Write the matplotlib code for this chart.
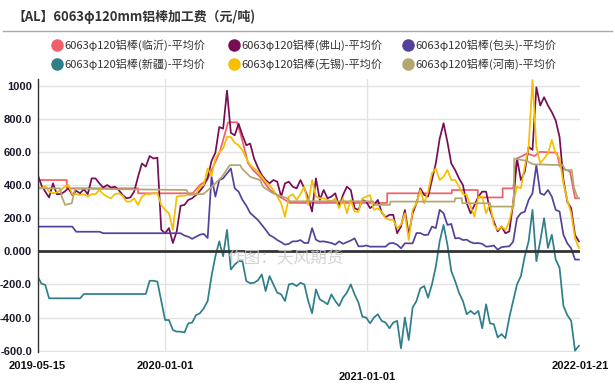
import matplotlib
matplotlib.use('Agg')
import matplotlib.pyplot as plt
from matplotlib.lines import Line2D
import pandas as pd

plt.rcParams['font.family'] = ['Noto Sans CJK SC', 'DejaVu Sans']

title = '【AL】6063φ120mm铝棒加工费（元/吨)'
names = ['6063φ120铝棒(临沂)-平均价', '6063φ120铝棒(佛山)-平均价', '6063φ120铝棒(包头)-平均价',
         '6063φ120铝棒(新疆)-平均价', '6063φ120铝棒(无锡)-平均价', '6063φ120铝棒(河南)-平均价']
colors = ['#F0606A', '#760D56', '#55419C', '#2E7F8A', '#F6BF00', '#B3A66F']

# weekly observation dates for the noisy series
week_dates = pd.date_range('2019-05-15', periods=141, freq='7D')

foshan = [466, 400, 360, 325, 410, 345, 345, 360, 380, 340,
          365, 350, 375, 345, 440, 440, 410, 385, 400, 385,
          390, 370, 340, 320, 325, 360, 450, 530, 511, 575,
          560, 565, 130, 109, 140, 50, 120, 275, 280, 310,
          320, 340, 365, 395, 445, 545, 595, 750, 740, 970,
          715, 700, 770, 700, 640, 650, 560, 505, 460, 430,
          410, 430, 420, 330, 410, 420, 390, 380, 430, 380,
          320, 240, 440, 310, 370, 320, 330, 350, 270, 340,
          390, 370, 260, 250, 310, 300, 260, 280, 310, 235,
          205, 220, 220, 109, 150, 249, 100, 229, 290, 380,
          340, 330, 430, 531, 680, 773, 660, 530, 490, 440,
          400, 290, 229, 280, 330, 360, 360, 249, 180, 120,
          150, 109, 120, 290, 560, 430, 480, 630, 612, 990,
          880, 930, 880, 840, 790, 690, 430, 300, 260, 98, 60]

wuxi = [390, 380, 395, 360, 350, 355, 370, 390, 400, 345,
        345, 340, 345, 330, 345, 345, 370, 345, 330, 320,
        345, 350, 335, 300, 300, 320, 280, 330, 345, 345,
        350, 350, 280, 250, 229, 130, 330, 335, 335, 340,
        340, 345, 390, 400, 500, 455, 560, 600, 620, 690,
        690, 655, 640, 610, 560, 521, 500, 480, 450, 420,
        400, 370, 330, 290, 209, 330, 345, 310, 345, 390,
        280, 430, 330, 320, 320, 310, 300, 320, 260, 320,
        229, 310, 239, 239, 320, 330, 340, 250, 260, 239,
        200, 190, 190, 140, 160, 229, 68, 249, 290, 370,
        290, 360, 471, 500, 430, 450, 491, 430, 430, 390,
        345, 340, 270, 209, 330, 330, 229, 290, 160, 129,
        150, 129, 180, 290, 390, 380, 511, 630, 1034, 632,
        531, 560, 590, 672, 592, 561, 410, 310, 229, 78, 20]

baotou = [149, 149, 149, 149, 149, 149, 149, 149, 149, 149,
          118, 118, 118, 118, 118, 118, 118, 109, 109, 109,
          109, 109, 109, 109, 109, 109, 109, 109, 109, 109,
          109, 109, 109, 109, 109, 109, 109, 109, 95, 88,
          75, 88, 100, 105, 80, 450, 330, 430, 440, 470,
          500, 380, 360, 310, 275, 231, 210, 189, 160, 130,
          98, 85, 68, 55, 40, 45, 60, 60, 68, 50,
          50, 140, 70, 58, 60, 55, 50, 40, 60, 45,
          55, 65, 78, 30, 30, 35, 28, 28, 28, 28,
          28, 48, 50, 40, 18, 48, 48, 48, 110, 110,
          98, 100, 149, 140, 250, 230, 159, 165, 78, 80,
          68, 70, 55, 48, 50, 45, 28, 30, 35, 10,
          25, 28, 30, 58, 200, 230, 239, 310, 350, 520,
          350, 340, 370, 330, 250, 240, 100, 48, 18, -50, -50]

xinjiang = [-149, -195, -203, -284, -284, -284, -284, -284, -284, -284,
            -284, -284, -258, -258, -258, -258, -258, -258, -258, -258,
            -258, -258, -258, -258, -258, -258, -258, -258, -258, -178,
            -178, -183, -300, -415, -415, -475, -485, -485, -490, -435,
            -430, -385, -374, -344, -300, -150, -30, 60, -30, 129,
            -110, -80, -60, -60, -180, -193, -190, -175, -140, -240,
            -150, -200, -250, -260, -300, -200, -195, -210, -190, -200,
            -300, -374, -230, -290, -304, -320, -260, -300, -330, -280,
            -250, -200, -260, -310, -395, -400, -435, -400, -380, -420,
            -430, -465, -430, -420, -586, -400, -536, -340, -300, -224,
            -210, -280, -200, -93, 60, 159, 40, -120, -180, -250,
            -300, -380, -360, -380, -360, -465, -320, -435, -440, -520,
            -500, -525, -400, -300, -200, -150, -30, 60, 250, -60,
            60, 200, 20, 100, -50, -100, -330, -385, -420, -600, -570]

# step-like series (break dates, values)
linyi_dates = ['2019-05-15', '2019-07-07', '2019-07-07', '2019-11-13', '2019-11-13', '2020-02-20',
               '2020-03-04', '2020-03-17', '2020-03-31', '2020-04-09', '2020-04-24', '2020-05-10',
               '2020-05-16', '2020-05-21', '2020-05-30', '2020-06-08', '2020-06-21', '2020-07-09',
               '2020-07-27', '2020-08-14', '2021-02-06', '2021-02-06', '2021-06-03', '2021-06-03',
               '2021-07-20', '2021-07-20', '2021-09-03', '2021-09-03', '2021-09-22', '2021-09-29',
               '2021-10-17', '2021-10-31', '2021-11-09', '2021-12-10', '2021-12-16', '2022-01-03',
               '2022-01-12', '2022-01-21']
linyi = [430, 430, 380, 380, 350, 350,
         400, 430, 533, 600, 779, 779,
         714, 653, 533, 491, 449, 370,
         328, 292, 292, 350, 350, 370,
         370, 325, 325, 380, 380, 560,
         590, 575, 600, 595, 510, 480,
         320, 320]

henan_dates = ['2019-05-15', '2019-06-25', '2019-06-28', '2019-07-04', '2019-07-16', '2019-07-22',
               '2020-02-09', '2020-02-12', '2020-03-10', '2020-03-26', '2020-04-13', '2020-04-27',
               '2020-05-16', '2020-05-19', '2020-06-03', '2020-06-21', '2020-06-26', '2020-07-14',
               '2020-08-09', '2020-08-14', '2021-01-11', '2021-01-15', '2021-02-11', '2021-02-12',
               '2021-06-08', '2021-06-09', '2021-06-21', '2021-06-22', '2021-08-11', '2021-08-12',
               '2021-09-23', '2021-09-24', '2021-10-17', '2021-10-28', '2021-12-21', '2021-12-25',
               '2022-01-06', '2022-01-10', '2022-01-17', '2022-01-21']
henan = [380, 380, 330, 280, 290, 378,
         370, 345, 345, 390, 450, 520,
         520, 500, 450, 430, 390, 350,
         320, 302, 302, 280, 280, 300,
         300, 320, 320, 290, 290, 270,
         270, 560, 545, 525, 520, 490,
         490, 385, 320, 320]

yticks = [1000, 800, 600, 400, 200, 0, -200, -400, -600]
ytick_labels = ['1000', '800.0', '600.0', '400.0', '200.0', '0.000', '-200.0', '-400.0', '-600.0']
xtick_dates = ['2019-05-15', '2020-01-01', '2021-01-01', '2022-01-21']
watermark = '作图：天风期货'

fig = plt.figure(figsize=(6.15, 3.89), dpi=100)
ax = fig.add_axes([37.5 / 615, 37 / 389, (580 - 37.5) / 615, 273 / 389])

series = [
    (pd.to_datetime(linyi_dates), linyi),
    (week_dates, foshan),
    (week_dates, baotou),
    (week_dates, xinjiang),
    (week_dates, wuxi),
    (pd.to_datetime(henan_dates), henan),
]
for (d, v), c in zip(series, colors):
    ax.plot(d, v, color=c, lw=1.25, zorder=2, solid_joinstyle='round')

ax.set_xlim(pd.Timestamp('2019-05-15'), pd.Timestamp('2022-01-21'))
ax.set_ylim(-608, 1040)
ax.set_yticks(yticks)
ax.set_yticklabels(ytick_labels, family='Liberation Sans', fontweight='bold', fontsize=8, color='#1a1a2e')
ax.tick_params(axis='y', length=0, pad=4)
ax.set_xticks(pd.to_datetime(xtick_dates))
ax.set_xticklabels([])
ax.tick_params(axis='x', length=0)
ax.grid(axis='y', color='#e3e3e3', lw=1, zorder=0)
for d in ['2020-01-01', '2021-01-01']:
    ax.axvline(pd.Timestamp(d), color='#e3e3e3', lw=1, zorder=0)
ax.axhline(0, color='#333333', lw=2, zorder=3)
for s in ['top', 'right', 'bottom']:
    ax.spines[s].set_visible(False)
ax.spines['left'].set_color('#333333')
ax.spines['left'].set_linewidth(1)

xt = ax.get_xaxis_transform()
offs = [-0.051, -0.051, -0.092, -0.051]
for d, o in zip(xtick_dates, offs):
    ax.text(pd.Timestamp(d), o, d, transform=xt, ha='center', va='center', family='Liberation Sans',
            fontweight='bold', fontsize=8, color='#111111')

# title and separator
fig.text(12 / 615, 1 - 17 / 389, title, fontsize=9.3, fontweight='bold', color='#333333',
         va='center', ha='left')
fig.add_artist(Line2D([3 / 615, 612 / 615], [1 - 31 / 389, 1 - 31 / 389], transform=fig.transFigure,
                      color='#aaaaaa', lw=1))

# legend
lx = [57, 234, 408]
ly = [45, 64]
for i, (n, c) in enumerate(zip(names, colors)):
    r, col = divmod(i, 3)
    x = lx[col] / 615
    y = 1 - ly[r] / 389
    fig.add_artist(Line2D([x], [y], transform=fig.transFigure, marker='o', markersize=8,
                          color=c, markeredgecolor=c, lw=0))
    fig.text(x + 7 / 615, y, n, fontsize=8, color='#333333', va='center', ha='left')

fig.text(286 / 615, 1 - 258 / 389, watermark, fontsize=12, color='#c8c8c8', ha='center',
         va='center', alpha=0.8, zorder=5)

fig.savefig('out.png', dpi=100)
